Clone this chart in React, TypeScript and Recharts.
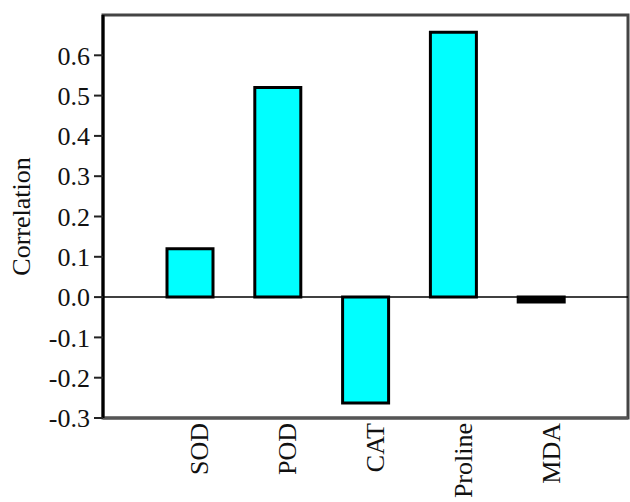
import {
  BarChart,
  Bar,
  Cell,
  XAxis,
  YAxis,
  ReferenceLine,
  ReferenceArea,
} from "recharts";

const categories = ["SOD", "POD", "CAT", "Proline", "MDA"];
const correlation = [0.12, 0.52, -0.263, 0.657, -0.012];
const yTicks = [-0.3, -0.2, -0.1, 0.0, 0.1, 0.2, 0.3, 0.4, 0.5, 0.6];

const data = categories.map((name, i) => ({ name, value: correlation[i] }));

const FONT = "'Liberation Serif', 'Times New Roman', serif";

function YLabel(props: any) {
  const vb = props.viewBox ?? { x: 0, y: 0, height: 0 };
  const cx = vb.x + 21;
  const cy = vb.y + vb.height / 2;
  return (
    <text
      x={cx}
      y={cy}
      transform={`rotate(-90 ${cx} ${cy})`}
      textAnchor="middle"
      dominantBaseline="central"
      fontFamily={FONT}
      fontSize={26}
      fill="#111"
    >
      Correlation
    </text>
  );
}

export default function App() {
  return (
    <div style={{ position: "absolute", left: 0, top: 0, background: "#fff" }}>
      <BarChart
        width={630}
        height={502}
        data={data}
        margin={{ top: 15, right: 2, bottom: 0, left: 0 }}
        barSize={46}
      >
        <XAxis
          xAxisId="frame"
          dataKey="name"
          orientation="top"
          height={0}
          hide
        />
        <ReferenceArea
          xAxisId="frame"
          y1={-0.3}
          y2={0.7}
          fill="none"
          stroke="#444"
          strokeWidth={3}
          ifOverflow="visible"
        />
        <XAxis
          dataKey="name"
          height={84}
          padding={{ left: 43, right: 43 }}
          axisLine={{ stroke: "#555", strokeWidth: 3 }}
          tickLine={false}
          tickSize={0}
          tickMargin={5}
          interval={0}
          tick={{
            angle: -90,
            textAnchor: "end",
            fontFamily: FONT,
            fontSize: 26,
            fill: "#111",
          }}
        />
        <YAxis
          width={103}
          domain={[-0.3, 0.7]}
          ticks={yTicks}
          allowDataOverflow
          tickFormatter={(v: number) => v.toFixed(1)}
          axisLine={{ stroke: "#000", strokeWidth: 3 }}
          tickLine={{ stroke: "#222", strokeWidth: 2 }}
          tickSize={9}
          tickMargin={4}
          tick={{ fontFamily: FONT, fontSize: 26, fill: "#111" }}
          label={<YLabel />}
        />
        <ReferenceLine y={0} stroke="#000" strokeWidth={1.5} />
        <Bar
          dataKey="value"
          fill="#00ffff"
          stroke="#000"
          strokeWidth={3}
          isAnimationActive={false}
        >
          {data.map((d) => (
            <Cell
              key={d.name}
              fill={Math.abs(d.value) < 0.02 ? "#000" : "#00ffff"}
            />
          ))}
        </Bar>
      </BarChart>
    </div>
  );
}
